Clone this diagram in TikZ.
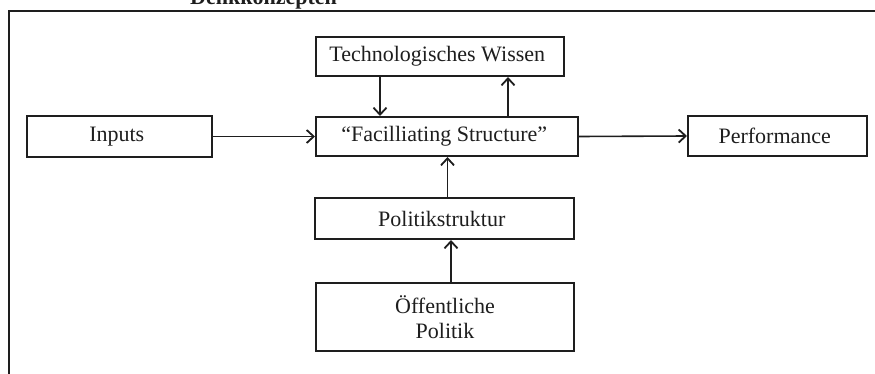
\documentclass[tikz,border=0pt]{standalone}
\usepackage{fontspec}
\setmainfont{Liberation Serif}
\usetikzlibrary{arrows.meta}
\definecolor{ink}{RGB}{30,30,30}
\tikzstyle{kasten} = [draw=ink, line width=2pt, rectangle, inner sep=0pt, font=\fontsize{22}{25}\selectfont, align=center, text=ink]
\tikzstyle{pfeil} = [draw=ink, line width=1.6pt, -{Straight Barb[length=7pt,width=13pt,line width=1.8pt]}]
\newcommand{\titel}[1]{\fontsize{22}{25}\selectfont\bfseries #1}

\begin{document}
\begin{tikzpicture}[x=1pt, y=1pt]
	\useasboundingbox (0,0) rectangle (875,-374);
	\clip (0,0) rectangle (875,-374);
	
	% Rahmen und Titel
	\node[anchor=base west, inner sep=0pt, text=ink] (titel) at (190,-5){%
		\titel{Denkkonzepten}
	};
	\draw[ink, line width=2.2pt] (9,-380) -- (9,-11) -- (880,-11);
	
	\node[kasten, minimum width=248pt, minimum height=39pt] (tech) at (440,-56.5){%
		Technologisches Wissen
	};
	\node[kasten, minimum width=262pt, minimum height=39pt] (facil) at (447,-136.5){%
		``Facilliating Structure''
	};
	\node[kasten, minimum width=185pt, minimum height=41pt] (inputs) at (119.5,-136.5){%
		Inputs
	};
	\node[kasten, minimum width=179pt, minimum height=40pt] (perf) at (777.5,-136){%
		Performance
	};
	\node[kasten, minimum width=259pt, minimum height=41pt] (politik) at (444.5,-218.5){%
		Politikstruktur
	};
	\node[kasten, minimum width=258pt, minimum height=68pt] (oeff) at (445,-317){%
		Öffentliche\\Politik
	};
	
	\draw[pfeil] (inputs.east) -- (facil.west);
	\draw[pfeil] (facil.east) -- (perf.west);
	\draw[pfeil] ([xshift=-60pt]tech.south) -- ([xshift=-60pt]tech.south |- facil.north);
	\draw[pfeil] ([xshift=68pt]tech.south |- facil.north) -- ([xshift=68pt]tech.south);
	\draw[pfeil] ([xshift=3pt]politik.north) -- ([xshift=3pt]politik.north |- facil.south);
	\draw[pfeil] ([xshift=6pt]oeff.north) -- ([xshift=6pt]oeff.north |- politik.south);
\end{tikzpicture}
\end{document}
